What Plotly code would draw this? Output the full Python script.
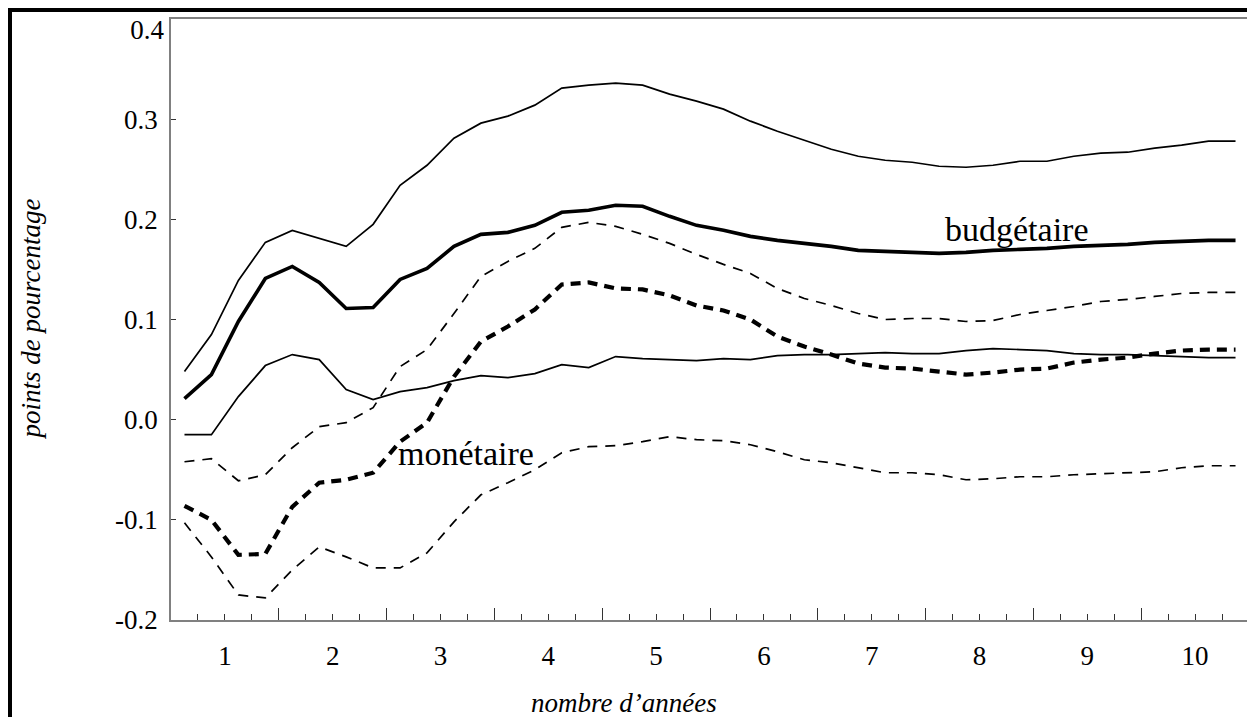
import plotly.graph_objects as go

quarters = list(range(1, 41))
year_labels = ["1", "2", "3", "4", "5", "6", "7", "8", "9", "10"]
y_ticks = [-0.2, -0.1, 0.0, 0.1, 0.2, 0.3, 0.4]
y_ticktext = ["-0.2", "-0.1", "0.0", "0.1", "0.2", "0.3", "0.4"]

budg_up = [0.048, 0.085, 0.139, 0.177, 0.189, 0.181, 0.173, 0.195, 0.234, 0.254,
           0.281, 0.296, 0.303, 0.314, 0.331, 0.334, 0.336, 0.334, 0.325, 0.318,
           0.310, 0.298, 0.288, 0.279, 0.270, 0.263, 0.259, 0.257, 0.253, 0.252,
           0.254, 0.258, 0.258, 0.263, 0.266, 0.267, 0.271, 0.274, 0.278, 0.278]
budg_mid = [0.021, 0.045, 0.098, 0.141, 0.153, 0.137, 0.111, 0.112, 0.140, 0.151,
            0.173, 0.185, 0.187, 0.194, 0.207, 0.209, 0.214, 0.213, 0.203, 0.194,
            0.189, 0.183, 0.179, 0.176, 0.173, 0.169, 0.168, 0.167, 0.166, 0.167,
            0.169, 0.170, 0.171, 0.173, 0.174, 0.175, 0.177, 0.178, 0.179, 0.179]
budg_lo = [-0.015, -0.015, 0.023, 0.054, 0.065, 0.060, 0.030, 0.020, 0.028, 0.032,
           0.039, 0.044, 0.042, 0.046, 0.055, 0.052, 0.063, 0.061, 0.060, 0.059,
           0.061, 0.060, 0.064, 0.065, 0.065, 0.066, 0.067, 0.066, 0.066, 0.069,
           0.071, 0.070, 0.069, 0.066, 0.065, 0.065, 0.064, 0.063, 0.062, 0.062]
mon_up = [-0.042, -0.039, -0.061, -0.055, -0.028, -0.007, -0.003, 0.012, 0.053, 0.070,
          0.106, 0.143, 0.158, 0.171, 0.192, 0.197, 0.193, 0.185, 0.176, 0.165,
          0.155, 0.146, 0.131, 0.121, 0.114, 0.106, 0.100, 0.101, 0.101, 0.098,
          0.099, 0.105, 0.109, 0.113, 0.118, 0.120, 0.123, 0.126, 0.127, 0.127]
mon_mid = [-0.086, -0.100, -0.135, -0.134, -0.087, -0.063, -0.060, -0.053, -0.022, -0.003,
           0.043, 0.078, 0.093, 0.110, 0.135, 0.137, 0.131, 0.130, 0.124, 0.114,
           0.109, 0.100, 0.083, 0.073, 0.065, 0.056, 0.052, 0.051, 0.048, 0.045,
           0.047, 0.050, 0.051, 0.057, 0.060, 0.062, 0.066, 0.069, 0.070, 0.070]
mon_lo = [-0.103, -0.137, -0.175, -0.178, -0.150, -0.127, -0.137, -0.148, -0.148, -0.133,
          -0.102, -0.075, -0.063, -0.050, -0.033, -0.027, -0.026, -0.022, -0.017, -0.020,
          -0.021, -0.025, -0.032, -0.040, -0.043, -0.048, -0.053, -0.053, -0.055, -0.060,
          -0.059, -0.057, -0.057, -0.055, -0.054, -0.053, -0.052, -0.048, -0.046, -0.046]

FONT = "Liberation Serif"
AX = "#808080"

W, H = 1247, 709
L, R, T, B = 163, 6, 11, 97
PW, PH = W - L - R, H - T - B


def px_x(p):
    return (p - L) / PW


def px_y(p):
    return (H - B - p) / PH


fig = go.Figure()
series = [
    (budg_up, dict(color="black", width=1.7, dash="solid")),
    (budg_lo, dict(color="black", width=1.7, dash="solid")),
    (budg_mid, dict(color="black", width=3.6, dash="solid")),
    (mon_up, dict(color="black", width=1.7, dash="10px,8px")),
    (mon_lo, dict(color="black", width=1.7, dash="10px,8px")),
    (mon_mid, dict(color="black", width=4.2, dash="10px,7px")),
]
for ys, ln in series:
    fig.add_trace(go.Scatter(x=quarters, y=ys, mode="lines", line=ln,
                             showlegend=False, hoverinfo="skip"))

n = len(quarters)
major = [0.5 + 4 * k for k in range(n // 4 + 1)]
minor = [0.5 + j for j in range(n + 1)]
label_pos = [2.5 + 4 * k for k in range(len(year_labels))]
main_ytext = y_ticktext[:-1] + [""]

fig.update_layout(
    width=W, height=H,
    margin=dict(l=L, r=R, t=T, b=B, autoexpand=False),
    paper_bgcolor="white", plot_bgcolor="white",
    font=dict(family=FONT, size=27, color="black"),
    xaxis=dict(range=[0.5, n + 0.5], showgrid=False, zeroline=False,
               showline=True, linecolor=AX, linewidth=1.5, mirror=True,
               automargin=False,
               tickmode="array", tickvals=major, ticks="inside", ticklen=12,
               tickcolor="#333333", tickwidth=1.3, showticklabels=False,
               minor=dict(tickmode="array", tickvals=minor, ticks="inside",
                          ticklen=6, tickcolor="#333333", tickwidth=1.3)),
    xaxis2=dict(range=[0.5, n + 0.5], overlaying="x", side="bottom",
                showgrid=False, zeroline=False, showline=False, automargin=False,
                tickmode="array", tickvals=label_pos, ticktext=year_labels,
                ticks="", ticklabelstandoff=17,
                tickfont=dict(family=FONT, size=27, color="black")),
    yaxis=dict(range=[-0.2, 0.4], showgrid=False, zeroline=False,
               showline=True, linecolor=AX, linewidth=1.5, mirror=True,
               automargin=False,
               tickmode="array", tickvals=y_ticks, ticktext=main_ytext,
               ticks="inside", ticklen=5, tickcolor="#333333", tickwidth=1.3,
               ticklabelstandoff=6,
               tickfont=dict(family=FONT, size=27, color="black")),
    yaxis2=dict(range=[-0.2, 0.4], overlaying="y", side="left",
                showgrid=False, zeroline=False, showline=False, automargin=False,
                tickmode="array", tickvals=[y_ticks[-1]], ticktext=[y_ticktext[-1]],
                ticks="", ticklabelstandoff=6, ticklabelshift=11,
                ticklabeloverflow="allow",
                tickfont=dict(family=FONT, size=27, color="black")),
)
fig.add_trace(go.Scatter(x=[quarters[0]], y=[budg_mid[0]], xaxis="x2", mode="markers",
                         marker=dict(opacity=0), showlegend=False, hoverinfo="skip"))
fig.add_trace(go.Scatter(x=[quarters[0]], y=[budg_mid[0]], yaxis="y2", mode="markers",
                         marker=dict(opacity=0), showlegend=False, hoverinfo="skip"))

fig.add_annotation(x=31.9, y=0.19, xref="x", yref="y", text="budgétaire",
                   showarrow=False, font=dict(family=FONT, size=34, color="black"))
fig.add_annotation(x=11.45, y=-0.034, xref="x", yref="y", text="monétaire",
                   showarrow=False, font=dict(family=FONT, size=34, color="black"))
fig.add_annotation(x=px_x(616), y=px_y(712), xref="paper", yref="paper",
                   xanchor="center", yanchor="bottom",
                   text="<i>nombre d’années</i>", showarrow=False,
                   font=dict(family=FONT, size=27, color="black"))
fig.add_annotation(x=px_x(22), y=0.5, xref="paper", yref="paper",
                   xanchor="center", yanchor="middle",
                   text="<i>points de pourcentage</i>", showarrow=False, textangle=-90,
                   font=dict(family=FONT, size=27, color="black"))
fig.add_shape(type="rect", xref="paper", yref="paper",
              x0=px_x(2), x1=px_x(1265), y0=px_y(740), y1=px_y(2),
              line=dict(color="black", width=4))

fig.write_html("out.html")
